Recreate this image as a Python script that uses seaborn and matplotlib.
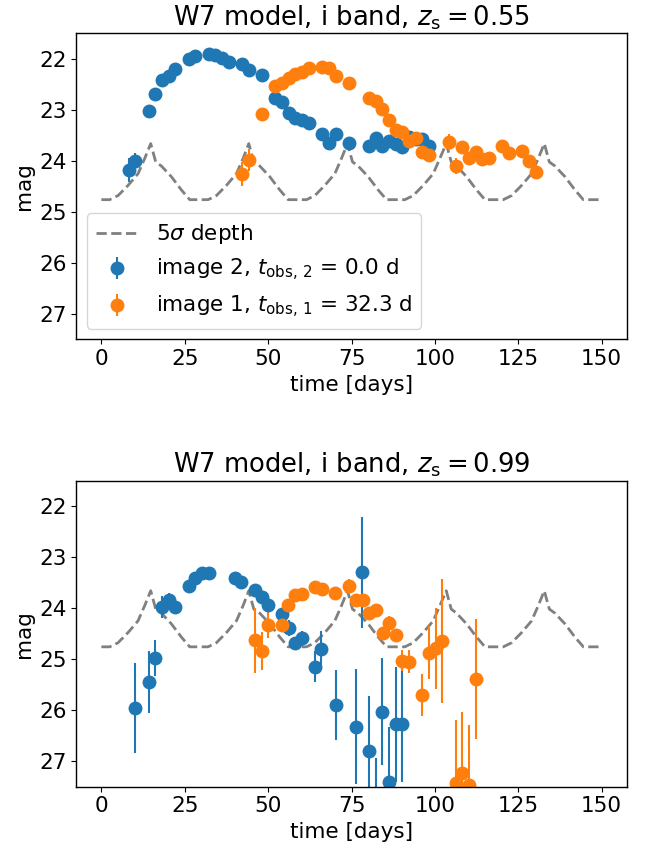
import numpy as np
import pandas as pd
import matplotlib
matplotlib.use("Agg")
import matplotlib.pyplot as plt
import seaborn as sns

# ---------------- data ----------------
# 5 sigma limiting depth (i band)
depth_t = [0, 2.5, 5, 8, 11, 13, 14.8, 16.3, 18, 21, 24, 26.5,
           32, 34.5, 37.5, 40.5, 42.5, 44.2, 45.7, 47.5, 50.5, 53.5, 56,
           61.5, 64, 67, 70, 72, 73.8, 75.3, 77, 80, 83, 85.5,
           91, 93.5, 96.5, 99.5, 101.5, 103.4, 104.9, 106.5, 109.5, 112.5, 115,
           120.5, 123, 126, 129, 131, 132.8, 134.3, 136, 139, 142, 144.5, 150]
depth_m = [24.76, 24.76, 24.68, 24.48, 24.25, 23.95, 23.66, 24.02, 24.10, 24.31, 24.57, 24.76,
           24.76, 24.68, 24.48, 24.25, 23.95, 23.66, 24.02, 24.10, 24.31, 24.57, 24.76,
           24.76, 24.68, 24.48, 24.25, 23.95, 23.66, 24.02, 24.10, 24.31, 24.57, 24.76,
           24.76, 24.68, 24.48, 24.25, 23.95, 23.66, 24.02, 24.10, 24.31, 24.57, 24.76,
           24.76, 24.68, 24.48, 24.25, 23.95, 23.66, 24.02, 24.10, 24.31, 24.57, 24.76, 24.76]

# z_s = 0.55 ; image 2
t2_a = [8.2, 10.2, 14.2, 16.2, 18.2, 20.2, 22.2, 26.2, 28.2, 32.2, 34.2, 36.2, 38.2,
        42.2, 44.2, 48.2, 52.2, 54.2, 56.2, 58.2, 60.2, 62.2, 66.2, 68.2, 70.2, 74.2,
        80.2, 82.2, 84.2, 86.2, 88.2, 90.2, 92.2, 94.2, 96.2, 98.2]
m2_a = [24.18, 24.00, 23.02, 22.69, 22.41, 22.33, 22.20, 22.00, 21.94, 21.91, 21.92, 21.98, 22.05,
        22.09, 22.22, 22.31, 22.77, 22.85, 23.05, 23.15, 23.19, 23.25, 23.47, 23.64, 23.47, 23.64,
        23.70, 23.55, 23.70, 23.61, 23.66, 23.72, 23.53, 23.56, 23.57, 23.70]
e2_a = [0.23, 0.15, 0.03, 0.03, 0.03, 0.03, 0.03, 0.03, 0.03, 0.03, 0.03, 0.03, 0.03,
        0.03, 0.03, 0.03, 0.03, 0.03, 0.03, 0.03, 0.03, 0.03, 0.04, 0.05, 0.05, 0.10,
        0.05, 0.05, 0.05, 0.05, 0.05, 0.05, 0.05, 0.05, 0.05, 0.05]
# z_s = 0.55 ; image 1
t1_a = [42.2, 44.2, 48.2, 52.2, 54.2, 56.2, 58.2, 60.2, 62.2, 66.2, 68.2, 70.2, 74.2,
        80.2, 82.2, 84.2, 86.2, 88.2, 90.2, 92.2, 94.2, 96.2, 98.2, 104.2, 106.2, 108.2,
        110.2, 112.2, 114.2, 116.2, 120.2, 122.2, 126.2, 128.2, 130.2]
m1_a = [24.26, 23.98, 23.08, 22.53, 22.47, 22.38, 22.30, 22.25, 22.18, 22.16, 22.18, 22.33, 22.48,
        22.77, 22.83, 22.98, 23.20, 23.39, 23.44, 23.61, 23.55, 23.83, 23.89, 23.63, 24.10, 23.73,
        23.94, 23.82, 23.96, 23.95, 23.71, 23.85, 23.81, 24.00, 24.21]
e1_a = [0.23, 0.22, 0.03, 0.03, 0.03, 0.03, 0.03, 0.03, 0.03, 0.03, 0.03, 0.03, 0.03,
        0.04, 0.04, 0.04, 0.04, 0.05, 0.05, 0.05, 0.05, 0.05, 0.05, 0.15, 0.15, 0.10,
        0.07, 0.07, 0.07, 0.07, 0.07, 0.07, 0.08, 0.10, 0.15]

# z_s = 0.99 ; image 2
t2_b = [10.0, 14.2, 16.2, 18.2, 20.2, 22.2, 26.2, 28.2, 30.2, 32.2, 40.0, 42.0, 46.0,
        48.2, 50.0, 54.2, 56.2, 58.2, 60.2, 64.0, 66.0, 70.2, 76.2, 78.1, 80.2, 82.2,
        84.2, 86.2, 88.2, 90.2]
m2_b = [25.96, 25.45, 24.98, 23.98, 23.85, 23.98, 23.56, 23.41, 23.32, 23.32, 23.41, 23.49, 23.64,
        23.79, 23.93, 24.12, 24.39, 24.69, 24.59, 25.15, 24.81, 25.90, 26.33, 23.30, 26.81, 27.95,
        26.03, 27.41, 26.28, 26.28]
e2_b = [0.88, 0.61, 0.36, 0.21, 0.15, 0.05, 0.04, 0.04, 0.04, 0.04, 0.05, 0.05, 0.10,
        0.08, 0.08, 0.10, 0.15, 0.12, 0.15, 0.30, 0.37, 0.69, 1.13, 1.09, 1.09, 1.00,
        1.05, 1.07, 1.13, 1.13]
# z_s = 0.99 ; image 1
t1_b = [46.0, 48.2, 50.0, 54.2, 56.0, 58.2, 60.2, 64.0, 66.2, 70.0, 74.2, 76.3, 78.3,
        80.3, 82.3, 84.3, 86.3, 88.3, 90.2, 92.2, 96.2, 98.2, 100.2, 102.2, 106.2, 108.2,
        110.2, 112.2]
m1_b = [24.63, 24.84, 24.33, 24.34, 23.94, 23.74, 23.72, 23.58, 23.62, 23.70, 23.57, 23.85, 23.85,
        24.09, 24.03, 24.49, 24.30, 24.53, 25.03, 25.05, 25.71, 24.88, 24.79, 24.64, 27.44, 27.24,
        27.47, 25.39]
e1_b = [0.64, 0.38, 0.25, 0.10, 0.05, 0.05, 0.05, 0.05, 0.05, 0.06, 0.15, 0.08, 0.08,
        0.10, 0.10, 0.10, 0.15, 0.12, 0.20, 0.22, 0.41, 0.52, 0.79, 1.22, 1.24, 1.20,
        1.17, 1.17]

titles = [r"W7 model, i band, $z_{\rm s} = 0.55$", r"W7 model, i band, $z_{\rm s} = 0.99$"]
label_depth = r"5$\sigma$ depth"
label_img2 = r"image 2, $t_{\rm obs,\,2}$ = 0.0 d"
label_img1 = r"image 1, $t_{\rm obs,\,1}$ = 32.3 d"
yticks = [22, 23, 24, 25, 26, 27]
xticks = [0, 25, 50, 75, 100, 125, 150]

# ---------------- style ----------------
sns.set_style("ticks")
plt.rcParams.update({
    "font.family": ["DejaVu Sans"],
    "font.size": 15.5,
    "axes.titlesize": "large",
    "axes.labelsize": 15.5,
    "xtick.labelsize": 15.5,
    "ytick.labelsize": 15.5,
    "legend.fontsize": 15.5,
    "axes.edgecolor": "black",
    "axes.linewidth": 1.0,
    "text.color": "black",
    "axes.labelcolor": "black",
    "xtick.color": "black",
    "ytick.color": "black",
    "mathtext.fontset": "dejavusans",
})

blue = "#1f77b4"
orange = "#ff7f0e"

fig, axes = plt.subplots(2, 1, figsize=(6.47, 8.5), dpi=100)
fig.subplots_adjust(left=0.118, right=0.9686, bottom=0.0747, top=0.9606, hspace=0.462)

depth_df = pd.DataFrame({"t": depth_t, "m": depth_m})
panels = [(t2_a, m2_a, e2_a, t1_a, m1_a, e1_a), (t2_b, m2_b, e2_b, t1_b, m1_b, e1_b)]

for i, ax in enumerate(axes):
    t2, m2, e2, t1, m1, e1 = panels[i]
    sns.lineplot(data=depth_df, x="t", y="m", ax=ax, color="gray", linestyle="--",
                 linewidth=2, label=label_depth, sort=False, legend=False)
    ax.errorbar(t2, m2, yerr=e2, fmt="o", color=blue, ms=9, elinewidth=1.5,
                label=label_img2)
    ax.errorbar(t1, m1, yerr=e1, fmt="o", color=orange, ms=9, elinewidth=1.5,
                label=label_img1)
    ax.set_xlim(-7.5, 157.5)
    ax.set_ylim(27.5, 21.5)
    ax.set_xticks(xticks)
    ax.set_yticks(yticks)
    ax.set_xlabel("time [days]")
    ax.set_ylabel("mag")
    ax.set_title(titles[i], pad=6)
    if i == 0:
        ax.legend(loc="lower left")
    else:
        leg = ax.get_legend()
        if leg is not None:
            leg.remove()

fig.savefig("out.png", dpi=100)
